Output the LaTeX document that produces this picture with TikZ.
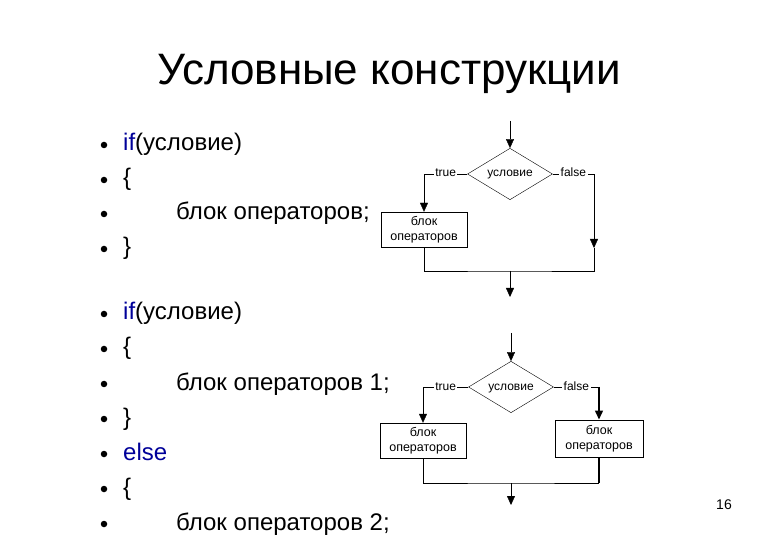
\documentclass[tikz,border=0pt]{standalone}
\usepackage{fontspec}
\setmainfont{Liberation Sans}
\usetikzlibrary{arrows.meta}
\usetikzlibrary{positioning}
\usetikzlibrary{shapes.geometric}
\definecolor{kwblue}{RGB}{0,0,153}
\tikzset{
  cond/.style={diamond, draw=black, minimum width=85pt, minimum height=40pt,
    inner sep=0pt, text height=6pt, text depth=0pt,
    font=\fontsize{12}{14}\selectfont},
  block/.style={rectangle, draw=black, fill=white, minimum width=86pt,
    minimum height=35pt, inner sep=0pt, align=center,
    font=\fontsize{12.5}{15}\selectfont},
  lbl/.style={fill=white, inner sep=1.5pt, text height=6pt, text depth=0pt,
    font=\fontsize{12}{14}\selectfont},
  item/.style={anchor=base west, inner sep=0pt, font=\fontsize{24}{28}\selectfont},
  dot/.style={circle, fill, inner sep=0pt, minimum size=6.5pt},
}

\begin{document}
\begin{tikzpicture}[x=1pt, y=-1pt,
	arr/.style={-{Triangle[length=9pt,width=8pt]}},
	bold/.style={line width=1.5pt}]
	\useasboundingbox (0,0) rectangle (780,540);

	% title
	\node[font=\fontsize{44}{50}\selectfont, anchor=base] (title) at (389,85) {Условные конструкции};

	% bullets, first list (1 - 4)
	\foreach \n/\y/\c in {1/151/kwblue, 2/186/black, 3/220/black, 4/255/black}
	\node[dot, text=\c] (da\n) at (104,\y-6) {};
	% bullets, second list (1 - 7)
	\foreach \n/\y/\c in {1/320/kwblue, 2/355/black, 3/390/black, 4/425/black,
		5/460/kwblue, 6/495/black, 7/530/black}
	\node[dot, text=\c] (db\n) at (104,\y-6) {};

	% text, first list
	\node[item] (ta1) at (123,151) {\textcolor{kwblue}{if}(условие)};
	\node[item] (ta2) at (123,186) {\{};
	\node[item] (ta3) at (176,220) {блок операторов;};
	\node[item] (ta4) at (123,255) {\}};
	% text, second list
	\node[item] (tb1) at (123,320) {\textcolor{kwblue}{if}(условие)};
	\node[item] (tb2) at (123,355) {\{};
	\node[item] (tb3) at (176,390) {блок операторов 1;};
	\node[item] (tb4) at (123,425) {\}};
	\node[item, text=kwblue] (tb5) at (123,460) {else};
	\node[item] (tb6) at (123,495) {\{};
	\node[item] (tb7) at (176,530) {блок операторов 2;};

	% flowchart 1 (if)
	\coordinate (s1) at (510,121);
	\node[cond] (cond1) at (510,174) {условие};
	\node[block] (blk1) at (424,229.5) {блок\\операторов};
	\coordinate (r1) at (594,248);
	\coordinate (j1) at (510,271);
	\coordinate (e1) at (510,297);

	\draw[arr] (s1) -- (cond1.north);
	\draw[arr] (cond1.west) -| node[lbl, pos=.25] {true} (blk1.north);
	\draw[arr] (cond1.east) -| node[lbl, pos=.25] {false} (r1);
	\draw (blk1.south) |- (j1) -| (r1);
	\draw[arr] (j1) -- (e1);

	% flowchart 2 (if - else)
	\coordinate (s2) at (511,333);
	\node[cond] (cond2) at (511,387) {условие};
	\node[block] (blk2) at (423,440.5) {блок\\операторов};
	\node[block, line width=1pt, minimum width=88pt, minimum height=37pt] (blk3) at (599,438.5) {блок\\операторов};
	\coordinate (c3) at (cond2.east -| blk3.north);
	\coordinate (j2) at (511,483);
	\coordinate (k3) at (j2 -| blk3.south);
	\coordinate (e2) at (511,505);

	\draw[arr] (s2) -- (cond2.north);
	\draw[arr] (cond2.west) -| node[lbl, pos=.25] {true} (blk2.north);
	\draw (cond2.east) -- node[lbl] {false} (c3);
	\draw[arr, bold] (c3) -- (blk3.north);
	\draw (blk2.south) |- (j2) -- (k3);
	\draw[bold] (blk3.south) -- (k3);
	\draw[arr] (j2) -- (e2);

	% page number
	\node[font=\fontsize{14}{16}\selectfont] (page) at (724,505) {16};

\end{tikzpicture}
\end{document}
